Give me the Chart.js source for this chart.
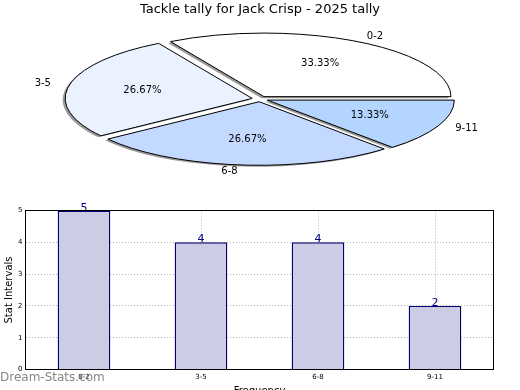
<!DOCTYPE html>
<html>
<head>
<meta charset="utf-8">
<script src="https://cdn.jsdelivr.net/npm/chart.js@4/dist/chart.umd.min.js"></script>
<style>
    html, body { margin: 0; padding: 0; background: #fff; overflow: hidden; }
    #wrap { position: relative; width: 520px; height: 390px; overflow: hidden; }
    #pieChart { position: absolute; left: 0; top: 0; }
    #barChart { position: absolute; left: 0; top: 195px; }
</style>
</head>
<body>
<div id="wrap">
    <canvas id="pieChart" width="520" height="200"></canvas>
    <canvas id="barChart" width="520" height="210"></canvas>
</div>
<script>
// Данные
const categories = ['0-2', '3-5', '6-8', '9-11'];
const tallies = [5, 4, 4, 2];
const yTicks = [0, 1, 2, 3, 4, 5];
const chartTitle = 'Tackle tally for Jack Crisp - 2025 tally';

Chart.defaults.font.family = '"DejaVu Sans", sans-serif';
Chart.defaults.color = '#000';

// Пирог рисуется как сплющенный эллипс, как в matplotlib
const SQUASH = 0.34;
const EXPLODE = 8;
const PIE_R = 187;

function squash(ctx, arc) {
    const mid = (arc.startAngle + arc.endAngle) / 2;
    ctx.translate(arc.x, arc.y);
    ctx.scale(1, -SQUASH);
    ctx.translate(-arc.x, -arc.y);
    ctx.translate(Math.cos(mid) * EXPLODE, Math.sin(mid) * EXPLODE);
}

function slicePath(ctx, arc) {
    ctx.save();
    squash(ctx, arc);
    ctx.beginPath();
    ctx.moveTo(arc.x, arc.y);
    ctx.arc(arc.x, arc.y, arc.outerRadius, arc.startAngle, arc.endAngle);
    ctx.closePath();
    ctx.restore();
}

// точка на эллипсе по углу сектора
function piePoint(arc, dist) {
    const mid = (arc.startAngle + arc.endAngle) / 2;
    const r = EXPLODE + arc.outerRadius * dist;
    return {
        x: arc.x + Math.cos(mid) * r,
        y: arc.y - Math.sin(mid) * r * SQUASH,
        right: Math.cos(mid) >= 0
    };
}

const ellipsePie = {
    id: 'ellipsePie',
    beforeDatasetsDraw(chart) {
        const ctx = chart.ctx;
        const arcs = chart.getDatasetMeta(0).data;
        // тени
        arcs.forEach(arc => {
            ctx.save();
            ctx.translate(-2.5, 1.5);
            slicePath(ctx, arc);
            ctx.fillStyle = '#9a9a9a';
            ctx.fill();
            ctx.restore();
        });
        // сектора
        arcs.forEach(arc => {
            ctx.save();
            slicePath(ctx, arc);
            ctx.fillStyle = arc.options.backgroundColor;
            ctx.fill();
            ctx.lineWidth = 1;
            ctx.lineJoin = 'miter';
            ctx.strokeStyle = arc.options.borderColor;
            ctx.stroke();
            ctx.restore();
        });
        return false;
    },
    afterDraw(chart) {
        const ctx = chart.ctx;
        const arcs = chart.getDatasetMeta(0).data;
        const total = tallies.reduce((a, b) => a + b, 0);
        ctx.save();
        ctx.font = '10px "DejaVu Sans"';
        ctx.fillStyle = '#000';
        ctx.textBaseline = 'middle';
        arcs.forEach((arc, i) => {
            const lp = piePoint(arc, 1.1);
            ctx.textAlign = lp.right ? 'left' : 'right';
            ctx.fillText(categories[i], lp.x, lp.y);
            const pp = piePoint(arc, 0.6);
            ctx.textAlign = 'center';
            ctx.fillText((tallies[i] / total * 100).toFixed(2) + '%', pp.x, pp.y);
        });
        ctx.restore();
    }
};

const pieChart = new Chart(document.getElementById('pieChart'), {
    type: 'pie',
    data: {
        labels: categories,
        datasets: [{
            data: tallies,
            backgroundColor: ['#ffffff', '#eaf2ff', '#c4d9ff', '#b3d5ff'],
            borderColor: '#000',
            borderWidth: 1
        }]
    },
    options: {
        responsive: false,
        animation: false,
        rotation: 90,
        radius: PIE_R,
        layout: { padding: { top: 0, bottom: 19.6, left: 0, right: 0 } },
        plugins: {
            legend: { display: false },
            tooltip: { enabled: false },
            title: {
                display: true,
                text: chartTitle,
                color: '#000',
                font: { size: 13, weight: 'normal' },
                padding: { top: 2, bottom: 0 }
            }
        }
    },
    plugins: [ellipsePie]
});

// Подписи над столбцами, рамка и водяной знак
const barExtras = {
    id: 'barExtras',
    afterDatasetsDraw(chart) {
        const ctx = chart.ctx;
        ctx.save();
        ctx.font = '11px "DejaVu Sans"';
        ctx.fillStyle = '#000080';
        ctx.textAlign = 'center';
        ctx.textBaseline = 'alphabetic';
        chart.getDatasetMeta(0).data.forEach((bar, i) => {
            ctx.fillText(String(tallies[i]), bar.x, bar.y);
        });
        ctx.restore();
    },
    afterDraw(chart) {
        const ctx = chart.ctx;
        const a = chart.chartArea;
        ctx.save();
        ctx.strokeStyle = '#000';
        ctx.lineWidth = 1;
        ctx.strokeRect(a.left, a.top, a.right - a.left, a.bottom - a.top);
        ctx.font = '12px "DejaVu Sans"';
        ctx.fillStyle = 'rgba(120,120,120,0.9)';
        ctx.textAlign = 'left';
        ctx.textBaseline = 'alphabetic';
        ctx.fillText('Dream-Stats.com', 0, 186);
        ctx.restore();
    }
};

const gridStyle = { color: '#b4b4b4', lineWidth: 1, drawTicks: false };

const barChart = new Chart(document.getElementById('barChart'), {
    type: 'bar',
    data: {
        labels: categories,
        datasets: [{
            data: tallies,
            backgroundColor: '#ccccE5',
            borderColor: '#000070',
            borderWidth: 1.4,
            barPercentage: 0.45,
            categoryPercentage: 1.0
        }]
    },
    options: {
        responsive: false,
        animation: false,
        layout: { padding: { top: 15.5, right: 26.5, left: 0, bottom: 0 } },
        plugins: {
            legend: { display: false },
            tooltip: { enabled: false }
        },
        scales: {
            x: {
                offset: true,
                z: 1,
                grid: { ...gridStyle, offset: false },
                border: { display: false, dash: [1, 2] },
                ticks: { font: { size: 7 }, color: '#000', padding: 3, maxRotation: 0, autoSkip: false },
                title: {
                    display: true, text: 'Frequency', color: '#000',
                    font: { size: 10 }, padding: { top: 0, bottom: 8 }
                },
                afterFit(scale) { scale.height = 35.5; }
            },
            y: {
                min: yTicks[0],
                max: yTicks[yTicks.length - 1],
                z: 1,
                grid: gridStyle,
                border: { display: false, dash: [1, 2] },
                ticks: { stepSize: 1, font: { size: 7 }, color: '#000', padding: 3 },
                title: {
                    display: true, text: 'Stat Intervals', color: '#000',
                    font: { size: 10 }, padding: { top: 3, bottom: 0 }
                },
                afterFit(scale) { scale.width = 25.5; }
            }
        }
    },
    plugins: [barExtras]
});
</script>
</body>
</html>
